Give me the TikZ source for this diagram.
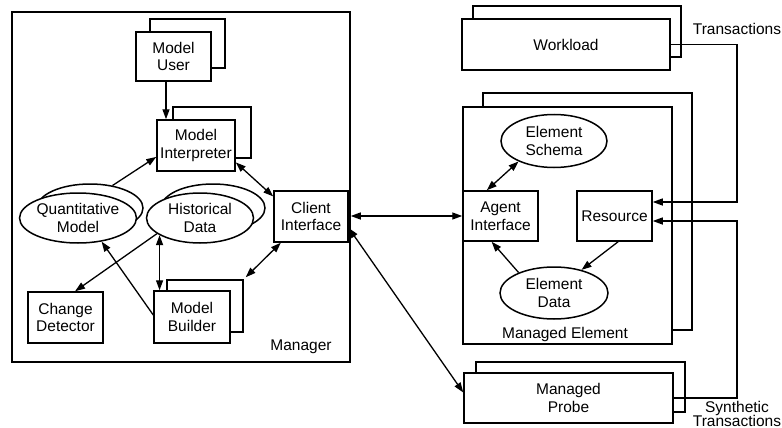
\documentclass[tikz,border=0pt]{standalone}
\usepackage{fontspec}
\setmainfont{Liberation Sans}
\usetikzlibrary{arrows.meta,shapes.geometric,calc}
\begin{document}
\begin{tikzpicture}[x=1pt,y=-1pt,
  font=\fontsize{15.5}{17.5}\selectfont,
  line width=1.5pt,
  box/.style={draw,fill=white,rectangle,inner sep=0pt,align=center,minimum width=#1},
  box/.default=75pt,
  ell/.style={draw,fill=white,ellipse,inner sep=0pt,align=center},
  arr/.style={line width=1.3pt,-{Triangle[length=10pt,width=7pt]}},
  darr/.style={line width=1.3pt,{Triangle[length=10pt,width=7pt]}-{Triangle[length=10pt,width=7pt]}},
  lbl/.style={inner sep=0pt,align=center}]
\useasboundingbox (0,0) rectangle (782,428);

% Manager
\node[draw,rectangle,inner sep=0pt,minimum width=338pt,minimum height=350pt] (mgr) at (181,187) {};
\node[lbl] (mgrl) at (301,347) {Manager};

% Model User
\node[box=75pt,minimum height=49pt] (userB) at (187.5,43.5) {};
\node[box=75pt,minimum height=49pt] (user) at (173.5,56.5) {Model\\User};

% Model Interpreter
\node[box=78pt,minimum height=51pt] (interpB) at (212,132.5) {};
\node[box=78pt,minimum height=51pt] (interp) at (196,145.5) {Model\\Interpreter};

% Quantitative Model
\node[ell,minimum width=106pt,minimum height=48pt] (qmB) at (90,208) {};
\node[ell,minimum width=110pt,minimum height=50pt] (qm) at (78,218) {Quantitative\\Model};

% Historical Data
\node[ell,minimum width=104pt,minimum height=48pt] (hdB) at (213,208) {};
\node[ell,minimum width=107pt,minimum height=50pt] (hd) at (200,218) {Historical\\Data};

% Client Interface
\node[box=74pt,minimum height=51pt] (client) at (311,216.5) {Client\\Interface};

% Change Detector
\node[box=75pt,minimum height=51pt] (cd) at (65.5,317.5) {Change\\Detector};

% Model Builder
\node[box=76pt,minimum height=52pt] (mbB) at (205,306) {};
\node[box=76pt,minimum height=52pt] (mb) at (192,317) {Model\\Builder};

% Workload
\node[box=208pt,minimum height=51pt] (wlB) at (577,31.5) {};
\node[box=208pt,minimum height=51pt] (wl) at (566,44.5) {Workload};
\node[lbl] (transl) at (737,29) {Transactions};

% Managed Element
\node[box=209pt,minimum height=237pt] (meB) at (587.5,211.5) {};
\node[box=209pt,minimum height=237pt] (me) at (567.5,225.5) {};
\node[lbl] (mel) at (565,334) {Managed Element};

\node[ell,minimum width=106pt,minimum height=53pt] (schema) at (554,141) {Element\\Schema};
\node[box=75pt,minimum height=50pt] (agent) at (500.5,216) {Agent\\Interface};
\node[box=75pt,minimum height=50pt] (res) at (614.5,216) {Resource};
\node[ell,minimum width=108pt,minimum height=52pt] (data) at (554,293) {Element\\Data};

% Managed Probe
\node[box=209pt,minimum height=50pt] (probeB) at (580.5,387) {};
\node[box=209pt,minimum height=50pt] (probe) at (568.5,398) {Managed\\Probe};
\node[lbl] (synl) at (737,414) {Synthetic\\[-4pt]Transactions};

% connectors
\coordinate (tx) at (737,0);
\coordinate (r1) at ([yshift=14pt]res.east);
\coordinate (r2) at ([yshift=-5pt]res.east);

\draw[arr] ([xshift=-7.5pt]user.south) -- ([xshift=-7.5pt]user.south |- interp.north);
\draw[arr] (qmB.45) -- (interp.196);
\draw[darr] (interp.-23) -- (client.152);
\draw[arr] (hd.200) -- (cd.70);
\draw[arr] (mb.177) -- (qm.-45);
\draw[darr] (hd.-157.5) -- (hd.-157.5 |- mb.north);
\draw[darr] (client.221) -- ([shift={(2pt,2pt)}]mbB.north east);
\draw[darr] (mgr.east |- agent.west) -- (agent.west);
\draw[darr] (client.-17) -- (probe.177);
\draw[darr] (agent.118) -- (schema.210);
\draw[arr] (data.150) -- (agent.-109);
\draw[arr] (res.-82) -- (data.40);
\draw[arr] (wl.east) -| (tx |- r1) -- (r1);
\draw[arr] (probe.east) -| (tx |- r2) -- (r2);
\end{tikzpicture}
\end{document}
